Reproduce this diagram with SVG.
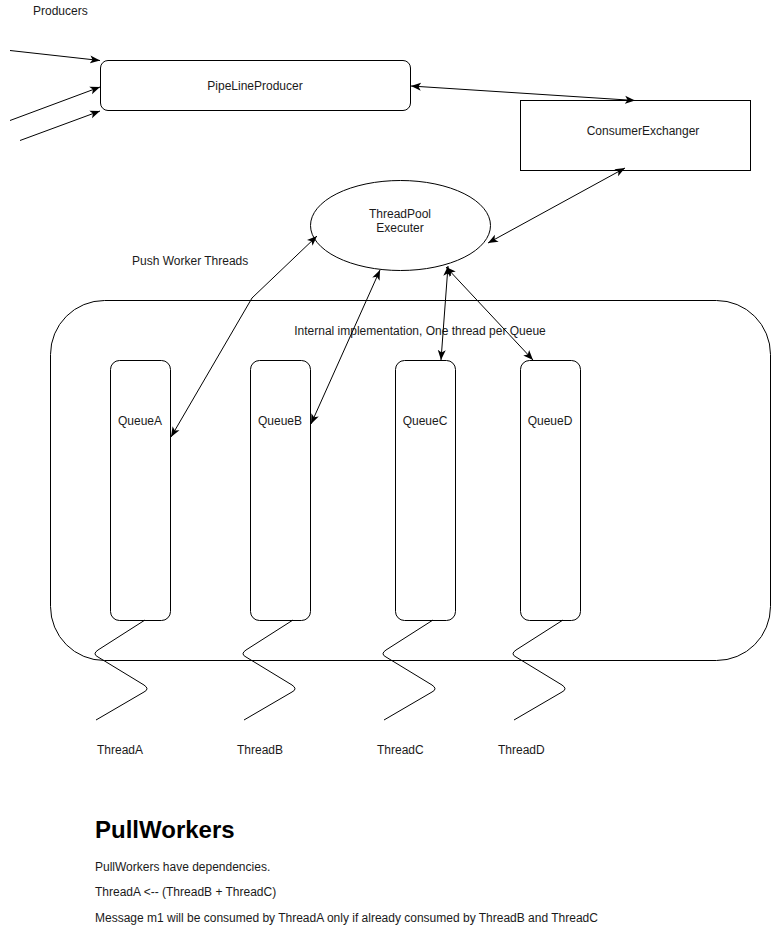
<svg xmlns="http://www.w3.org/2000/svg" width="771" height="931" viewBox="0 0 771 931">
<style>
.shape{fill:#fff;stroke:#000;stroke-width:1}
.edge{fill:none;stroke:#000;stroke-width:1}
.t{font-family:"Liberation Sans",Arial,sans-serif;font-size:12px;fill:#1a1a1a}
.c{text-anchor:middle}
.h{font-family:"Liberation Sans",Arial,sans-serif;font-size:24px;font-weight:bold;fill:#000}
</style>
<defs>
<marker id="arr" viewBox="0 0 10 10" refX="10" refY="5" markerWidth="10" markerHeight="10" markerUnits="userSpaceOnUse" orient="auto-start-reverse">
<path d="M0,1 L10,5 L0,9 L2.5,5 Z" fill="#000"/>
</marker>
</defs>
<rect width="771" height="931" fill="#fff"/>
<g id="container">
<rect class="shape" x="50.5" y="300.5" width="720" height="360" rx="54" ry="54"/>
<text class="t c" x="420" y="335">Internal implementation, One thread per Queue</text>
</g>
<g id="producers-label"><text class="t" x="33" y="15">Producers</text></g>
<g id="pipeline-producer">
<rect class="shape" x="100.5" y="60.5" width="310" height="50" rx="7.5" ry="7.5"/>
<text class="t c" x="255" y="90">PipeLineProducer</text>
</g>
<g id="consumer-exchanger">
<rect class="shape" x="520.5" y="100.5" width="230" height="70"/>
<text class="t c" x="643" y="135">ConsumerExchanger</text>
</g>
<g id="threadpool">
<ellipse class="shape" cx="400.5" cy="225.5" rx="90" ry="45"/>
<text class="t c" x="400" y="218">ThreadPool</text>
<text class="t c" x="400" y="232">Executer</text>
</g>
<g id="push-label"><text class="t" x="132" y="265">Push Worker Threads</text></g>
<g id="queueA"><rect class="shape" x="110.5" y="360.5" width="60" height="260" rx="9" ry="9"/><text class="t c" x="140" y="425">QueueA</text></g>
<g id="queueB"><rect class="shape" x="250.5" y="360.5" width="60" height="260" rx="9" ry="9"/><text class="t c" x="280" y="425">QueueB</text></g>
<g id="queueC"><rect class="shape" x="395.5" y="360.5" width="60" height="260" rx="9" ry="9"/><text class="t c" x="425" y="425">QueueC</text></g>
<g id="queueD"><rect class="shape" x="520.5" y="360.5" width="60" height="260" rx="9" ry="9"/><text class="t c" x="550" y="425">QueueD</text></g>
<g id="threads">
<g id="threadA"><path class="edge" d="M145,620 L98,650 Q92,654 98,657 L144,685 Q150,689 144,692 L96,720"/><text class="t" x="97" y="754">ThreadA</text></g>
<g id="threadB"><path class="edge" d="M293,620 L246,650 Q240,654 246,657 L292,685 Q298,689 292,692 L244,720"/><text class="t" x="237" y="754">ThreadB</text></g>
<g id="threadC"><path class="edge" d="M433,620 L386,650 Q380,654 386,657 L432,685 Q438,689 432,692 L384,720"/><text class="t" x="377" y="754">ThreadC</text></g>
<g id="threadD"><path class="edge" d="M563,620 L516,650 Q510,654 516,657 L562,685 Q568,689 562,692 L514,720"/><text class="t" x="498" y="754">ThreadD</text></g>
</g>
<g id="connectors">
<line class="edge" x1="10" y1="50.5" x2="100" y2="60.5" marker-end="url(#arr)"/>
<line class="edge" x1="10" y1="120.5" x2="100" y2="87" marker-end="url(#arr)"/>
<line class="edge" x1="20" y1="140.5" x2="100" y2="111" marker-end="url(#arr)"/>
<line class="edge" x1="411" y1="86" x2="635" y2="100.5" marker-start="url(#arr)" marker-end="url(#arr)"/>
<line class="edge" x1="625" y1="168" x2="488" y2="243" marker-start="url(#arr)" marker-end="url(#arr)"/>
<polyline class="edge" points="317,236 252,298 171,437" marker-start="url(#arr)" marker-end="url(#arr)"/>
<line class="edge" x1="380" y1="270" x2="311" y2="424" marker-start="url(#arr)" marker-end="url(#arr)"/>
<line class="edge" x1="448" y1="266" x2="441" y2="360" marker-start="url(#arr)" marker-end="url(#arr)"/>
<line class="edge" x1="446" y1="267" x2="533" y2="360" marker-start="url(#arr)" marker-end="url(#arr)"/>
</g>
<g id="pullworkers">
<text class="h" x="95" y="838">PullWorkers</text>
<text class="t" x="95" y="871">PullWorkers have dependencies.</text>
<text class="t" x="95" y="896">ThreadA &lt;-- (ThreadB + ThreadC)</text>
<text class="t" x="95" y="922">Message m1 will be consumed by ThreadA only if already consumed by ThreadB and ThreadC</text>
</g>
</svg>
